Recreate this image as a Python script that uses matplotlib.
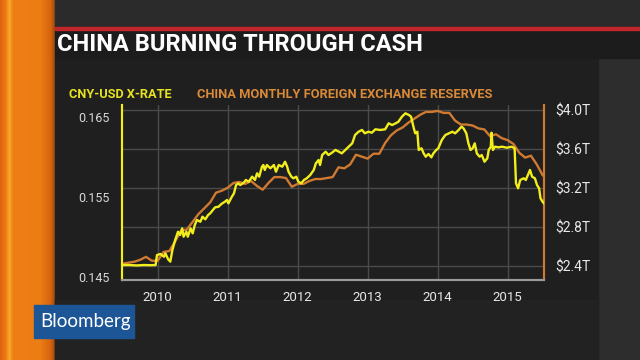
import numpy as np
import matplotlib.pyplot as plt
from matplotlib.patches import Rectangle

# CNY-USD rate (USD per yuan); x is decimal year
fx_t = [2009.99, 2010.10, 2010.20, 2010.30, 2010.40, 2010.47, 2010.49, 2010.54, 2010.59, 2010.61,
        2010.65, 2010.68, 2010.71, 2010.75, 2010.79, 2010.82, 2010.85, 2010.87, 2010.91, 2010.93,
        2010.97, 2011.00, 2011.03, 2011.06, 2011.11, 2011.14, 2011.18, 2011.22, 2011.25, 2011.29,
        2011.32, 2011.37, 2011.41, 2011.46, 2011.49, 2011.51, 2011.54, 2011.56, 2011.59, 2011.62,
        2011.65, 2011.68, 2011.73, 2011.76, 2011.80, 2011.85, 2011.89, 2011.92, 2011.95, 2011.99,
        2012.01, 2012.03, 2012.06, 2012.11, 2012.16, 2012.19, 2012.23, 2012.28, 2012.32, 2012.35,
        2012.37, 2012.41, 2012.44, 2012.48, 2012.51, 2012.55, 2012.59, 2012.63, 2012.68, 2012.73,
        2012.76, 2012.80, 2012.82, 2012.85, 2012.90, 2012.94, 2012.99, 2013.04, 2013.09, 2013.13,
        2013.18, 2013.23, 2013.28, 2013.32, 2013.37, 2013.42, 2013.46, 2013.51, 2013.56, 2013.61,
        2013.68, 2013.75, 2013.80, 2013.85, 2013.90, 2013.94, 2013.99, 2014.04, 2014.09, 2014.12,
        2014.16, 2014.18, 2014.21, 2014.23, 2014.27, 2014.30, 2014.33, 2014.37, 2014.41, 2014.44,
        2014.48, 2014.51, 2014.56, 2014.61, 2014.66, 2014.71, 2014.75, 2014.80, 2014.84, 2014.87,
        2014.91, 2014.94, 2014.97, 2015.00, 2015.03, 2015.06, 2015.10, 2015.13, 2015.17, 2015.21,
        2015.23, 2015.26, 2015.27, 2015.29, 2015.32, 2015.37, 2015.42, 2015.49, 2015.56, 2015.60,
        2015.62, 2015.65, 2015.68, 2015.73, 2015.76, 2015.79, 2015.82, 2015.85, 2015.89, 2015.92,
        2015.95, 2015.97, 2016.00, 2016.02]
fx_v = [0.14650, 0.14650, 0.14645, 0.14650, 0.14648, 0.14650, 0.14775, 0.14788, 0.14754, 0.14796,
        0.14721, 0.14692, 0.14838, 0.14963, 0.15066, 0.15025, 0.15108, 0.15004, 0.15066, 0.15004,
        0.15108, 0.15046, 0.15150, 0.15213, 0.15191, 0.15254, 0.15221, 0.15275, 0.15296, 0.15338,
        0.15371, 0.15379, 0.15413, 0.15441, 0.15463, 0.15421, 0.15471, 0.15504, 0.15546, 0.15650,
        0.15671, 0.15650, 0.15679, 0.15713, 0.15691, 0.15754, 0.15713, 0.15796, 0.15754, 0.15879,
        0.15900, 0.15838, 0.15900, 0.15859, 0.15900, 0.15816, 0.15900, 0.15879, 0.15941, 0.15879,
        0.15816, 0.15754, 0.15734, 0.15754, 0.15691, 0.15671, 0.15713, 0.15734, 0.15775, 0.15838,
        0.15921, 0.15963, 0.15900, 0.16025, 0.16066, 0.16025, 0.16054, 0.16088, 0.16066, 0.16046,
        0.16088, 0.16129, 0.16171, 0.16275, 0.16316, 0.16338, 0.16296, 0.16316, 0.16304, 0.16346,
        0.16338, 0.16346, 0.16421, 0.16400, 0.16421, 0.16441, 0.16504, 0.16546, 0.16525, 0.16504,
        0.16359, 0.16296, 0.16316, 0.16088, 0.16109, 0.16046, 0.16004, 0.16038, 0.15996, 0.16046,
        0.16088, 0.16109, 0.16213, 0.16275, 0.16296, 0.16316, 0.16296, 0.16338, 0.16379, 0.16359,
        0.16296, 0.16171, 0.16088, 0.16109, 0.16171, 0.16046, 0.16004, 0.16025, 0.15941, 0.15984,
        0.16088, 0.16129, 0.16304, 0.16088, 0.16129, 0.16121, 0.16129, 0.16116, 0.16129, 0.16109,
        0.15671, 0.15609, 0.15713, 0.15734, 0.15713, 0.15775, 0.15838, 0.15754, 0.15734, 0.15650,
        0.15609, 0.15484, 0.15441, 0.15421]

# China monthly FX reserves, $ trillions
res_months = ['2009-12'] + [f'{y}-{m:02d}' for y in range(2010, 2016) for m in range(1, 13)]
res_vals = [2.42,
            2.43, 2.44, 2.46, 2.49, 2.45, 2.45, 2.54, 2.55, 2.65, 2.76, 2.77, 2.85,
            2.93, 2.99, 3.05, 3.15, 3.17, 3.20, 3.25, 3.26, 3.24, 3.27, 3.22, 3.18,
            3.25, 3.31, 3.31, 3.30, 3.21, 3.24, 3.24, 3.27, 3.29, 3.29, 3.30, 3.31,
            3.41, 3.40, 3.44, 3.54, 3.52, 3.50, 3.55, 3.55, 3.66, 3.74, 3.79, 3.82,
            3.87, 3.91, 3.95, 3.98, 3.98, 3.99, 3.97, 3.97, 3.89, 3.85, 3.85, 3.84,
            3.81, 3.80, 3.73, 3.75, 3.71, 3.69, 3.65, 3.56, 3.51, 3.53, 3.44, 3.33]

years = ['2010', '2011', '2012', '2013', '2014', '2015']
fx_ticks = [0.145, 0.155, 0.165]
res_ticks = [2.4, 2.8, 3.2, 3.6, 4.0]

YELLOW = '#f2ee1c'
ORANGE = '#cf7a30'
FONT = 'Roboto'

fig = plt.figure(figsize=(6.4, 3.6), dpi=100)
fig.patch.set_facecolor('#262626')

# background decoration in pixel coordinates
bg = fig.add_axes([0, 0, 1, 1])
bg.set_xlim(0, 640)
bg.set_ylim(360, 0)
bg.axis('off')
bg.add_patch(Rectangle((55, 0), 585, 28, color='#2b2b2b'))
bg.add_patch(Rectangle((598, 58), 42, 302, color='#2d2d2d'))
bg.add_patch(Rectangle((55, 58), 543, 302, color='#1f1f1f'))
bg.add_patch(Rectangle((55, 300), 543, 60, color='#222222'))
bg.add_patch(Rectangle((55, 30), 585, 28, color='#1c1c1c'))
bg.add_patch(Rectangle((55, 27), 585, 3, color='#c3262a'))

# orange stripe on the left
stops = [0, 5, 9, 13, 40, 50, 55]
cols = np.array([[224, 100, 16], [236, 120, 20], [246, 168, 40], [238, 126, 20],
                 [236, 124, 20], [214, 100, 14], [150, 70, 20]]) / 255
xs = np.arange(56)
grad = np.stack([np.interp(xs, stops, cols[:, i]) for i in range(3)], axis=-1)[None, :, :]
bg.imshow(grad, extent=(0, 56, 360, 0), aspect='auto')

bg.text(57, 44.5, 'CHINA BURNING THROUGH CASH', color='white', fontsize=17,
        fontweight='bold', family=FONT, va='center', ha='left')
bg.text(69, 95, 'CNY-USD X-RATE', color='#e6e21e', fontsize=9.2, fontweight='bold',
        family=FONT, va='center', ha='left')
bg.text(197, 95, 'CHINA MONTHLY FOREIGN EXCHANGE RESERVES', color='#d98a38', fontsize=9.3,
        fontweight='bold', family=FONT, va='center', ha='left')

bg.add_patch(Rectangle((34, 305), 100, 33, color='#1d5696'))
bg.text(85, 322, 'Bloomberg', color='white', fontsize=13.5, family='Lato',
        va='center', ha='center')

# the chart
ax = fig.add_axes([122 / 640, 1 - 280 / 360, 422 / 640, 175 / 360])
ax2 = ax.twinx()

ax.plot(fx_t, fx_v, color=YELLOW, lw=1.7, zorder=3)
res_x = [int(m[:4]) + int(m[5:]) / 12 for m in res_months]
ax2.plot(res_x, res_vals, color=ORANGE, lw=1.7, zorder=2)
ax.set_zorder(ax2.get_zorder() + 1)
ax.patch.set_visible(False)
ax2.patch.set_facecolor('#1e1e1e')

ax.set_xlim(2009.99, 2016.02)
ax.set_ylim(0.14463, 0.1665)
ax2.set_ylim(2.252, 4.051)

ax.set_xticks([int(y) + 0.5 for y in years])
ax.set_xticklabels(years)
ax.set_yticks(fx_ticks)
ax.set_yticklabels(['0.145', '0.155', '0.165'])
ax2.set_yticks(res_ticks)
ax2.set_yticklabels([f'${v:.1f}T' for v in res_ticks])

ax2.grid(True, color='#4a4a4a', lw=1)
for t in ax.get_xticks():
    ax2.axvline(t, color='#4a4a4a', lw=1, zorder=0)

ax.tick_params(axis='x', length=0, pad=8, labelsize=9.5, labelcolor='#e8e8e8')
ax.tick_params(axis='y', length=0, pad=9, labelsize=9, labelcolor='#d8d8d8')
ax2.tick_params(axis='y', length=0, pad=8, labelsize=10, labelcolor='#e8e8e8')
for lab in ax.get_xticklabels() + ax.get_yticklabels() + ax2.get_yticklabels():
    lab.set_family(FONT)

for a in (ax, ax2):
    a.spines['top'].set_visible(False)
    a.spines['left'].set_color(YELLOW)
    a.spines['right'].set_color(ORANGE)
    a.spines['bottom'].set_color('#9a9a9a')
    for s in a.spines.values():
        s.set_linewidth(1.5)

fig.savefig('out.png', dpi=100, facecolor=fig.get_facecolor())
